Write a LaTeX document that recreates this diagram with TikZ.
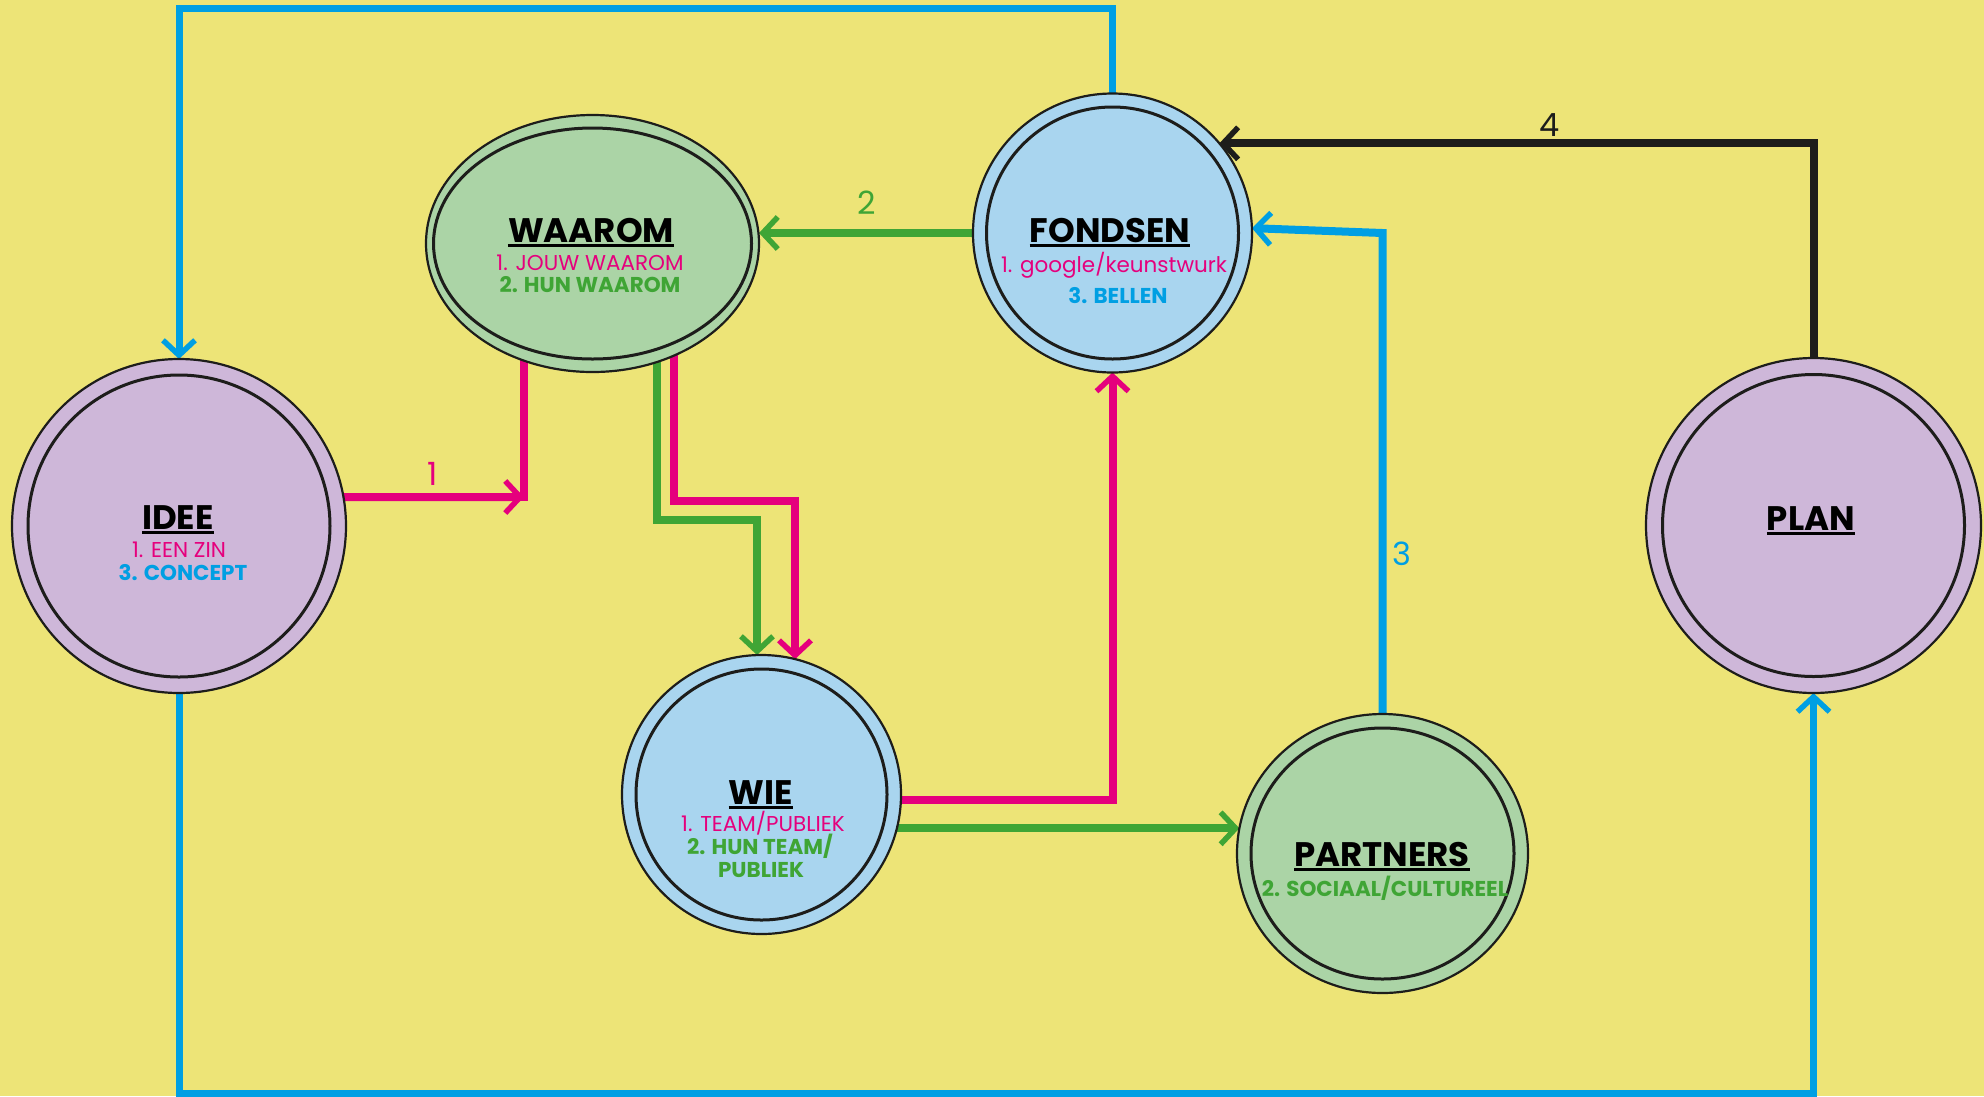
\documentclass[tikz,border=0pt]{standalone}
\usepackage{fontspec}
\setmainfont{Poppins}
\usetikzlibrary{shapes.geometric,arrows.meta}
\definecolor{bgyellow}{HTML}{EDE477}
\definecolor{lilac}{HTML}{CEB7D9}
\definecolor{mint}{HTML}{ABD4A6}
\definecolor{sky}{HTML}{A9D5EF}
\definecolor{pinkc}{HTML}{E5007D}
\definecolor{greenc}{HTML}{3FA535}
\definecolor{bluec}{HTML}{009FE3}
\definecolor{inkc}{HTML}{1D1D1B}
\pgfdeclarelayer{back}
\pgfdeclarelayer{wires}
\pgfsetlayers{back,wires,main}
\begin{document}
\begin{tikzpicture}[x=1pt,y=-1pt,
  ring/.style={draw=inkc, line width=2.2pt, inner sep=0pt, outer sep=0pt},
  inring/.style={draw=inkc, line width=3pt},
  ttl/.style={font=\fontsize{34}{36}\selectfont\bfseries, text=black, inner sep=0pt, anchor=base},
  sub/.style={font=\fontsize{21.5}{22}\selectfont, inner sep=0pt, anchor=base},
  subb/.style={font=\fontsize{21.5}{22}\selectfont\bfseries, inner sep=0pt, anchor=base},
  uline/.style={draw=black, line width=2.2pt},
  wire/.style={line width=8pt},
  loopwire/.style={line width=7pt},
  arr/.style={-{Straight Barb[length=15pt,width=32pt,line width=5.5pt]}},
  num/.style={font=\fontsize{32}{34}\selectfont, inner sep=0pt, anchor=base},
]
\useasboundingbox (0,0) rectangle (1984,1096);
\begin{pgfonlayer}{back}
\fill[bgyellow] (0,0) rectangle (1984,1096);
\end{pgfonlayer}

% nodes
\node[ring, circle, fill=lilac, minimum size=334pt] (idee) at (179,526) {};
\draw[inring] (idee.center) circle[radius=151pt];
\node[ring, ellipse, fill=mint, minimum width=333pt, minimum height=257pt] (waarom) at (592.5,243.5) {};
\draw[inring] (waarom.center) ellipse[x radius=159pt, y radius=115.5pt];
\node[ring, circle, fill=sky, minimum size=279pt] (fondsen) at (1112.5,233) {};
\draw[inring] (fondsen.center) circle[radius=126pt];
\node[ring, circle, fill=sky, minimum size=279pt] (wie) at (761.5,794.5) {};
\draw[inring] (wie.center) circle[radius=125.5pt];
\node[ring, ellipse, fill=mint, minimum width=291pt, minimum height=279pt] (partners) at (1382.5,853.5) {};
\draw[inring] (partners.center) ellipse[x radius=131.5pt, y radius=125.5pt];
\node[ring, circle, fill=lilac, minimum size=335pt] (plan) at (1813.5,525.5) {};
\draw[inring] (plan.center) circle[radius=151pt];

% texts
\node[ttl] (ideeT) at (178,529) {IDEE};
\node[sub, text=pinkc] (ideeA) at (179,557) {1. EEN ZIN};
\node[subb, text=bluec] (ideeB) at (183,580) {3. CONCEPT};

\node[ttl] (waaromT) at (591,242) {WAAROM};
\node[sub, text=pinkc] (waaromA) at (590,270) {1. JOUW WAAROM};
\node[subb, text=greenc] (waaromB) at (590,292) {2. HUN WAAROM};

\node[ttl] (fondsenT) at (1110,242) {FONDSEN};
\node[sub, text=pinkc] (fondsenA) at (1114,272) {1. google/keunstwurk};
\node[subb, text=bluec] (fondsenB) at (1118,303) {3. BELLEN};

\node[ttl] (wieT) at (761,804) {WIE};
\node[sub, text=pinkc] (wieA) at (763,831) {1. TEAM/PUBLIEK};
\node[subb, text=greenc] (wieB) at (760,854) {2. HUN TEAM/};
\node[subb, text=greenc] (wieC) at (761,877) {PUBLIEK};

\node[ttl] (partnersT) at (1382,866) {PARTNERS};
\node[subb, text=greenc] (partnersA) at (1385,896) {2. SOCIAAL/CULTUREEL};

\node[ttl] (planT) at (1811,530) {PLAN};

\foreach \t in {ideeT,waaromT,fondsenT,wieT,partnersT,planT}{
  \draw[uline] ([yshift=-3.5pt]\t.base west) -- ([yshift=-3.5pt]\t.base east);
}

% number labels
\node[num, text=pinkc] (n1) at (433,485) {1};
\node[num, text=greenc] (n2) at (867,214) {2};
\node[num, text=bluec] (n3) at (1402,565) {3};
\node[num, text=inkc] (n4) at (1550,136) {4};

% connectors
\coordinate (c1) at (524,497);
\coordinate (g1) at (657,520);
\coordinate (g2) at (757,520);
\coordinate (p1) at (674,501);
\coordinate (p2) at (795,501);
\coordinate (p3) at (1112.5,800);
\coordinate (tp) at (0,8);
\coordinate (bt) at (0,1093);
\begin{pgfonlayer}{wires}
\draw[wire, pinkc, arr] (idee.10) -- (c1);
\draw[wire, pinkc, line cap=rect] (c1) -- (c1 |- waarom.center);
\draw[wire, greenc, arr] (fondsen.west) -- (fondsen.west -| waarom.east);
\draw[wire, greenc, arr] (g1 |- waarom.center) -- (g1) -- (g2) -- (g2 |- wie.north);
\draw[wire, pinkc, arr] (p1 |- waarom.center) -- (p1) -- (p2) -- (p2 |- wie.76);
\draw[wire, pinkc, arr] (wie.center |- p3) -- (p3) -- (p3 |- fondsen.south);
\draw[wire, greenc, arr] (wie.center |- partners.170) -- (partners.170);
\draw[wire, bluec, arr] (partners.center) -- (partners.center |- fondsen.center) -- (fondsen.2);
\draw[wire, inkc, arr] (plan.center) -- (plan.center |- fondsen.40) -- (fondsen.40);
\draw[loopwire, bluec, arr] (fondsen.center) -- (fondsen.center |- tp) -- (idee.center |- tp) -- (idee.north);
\draw[loopwire, bluec, arr] (idee.center) -- (idee.center |- bt) -- (plan.center |- bt) -- (plan.south);
\end{pgfonlayer}
\end{tikzpicture}
\end{document}
